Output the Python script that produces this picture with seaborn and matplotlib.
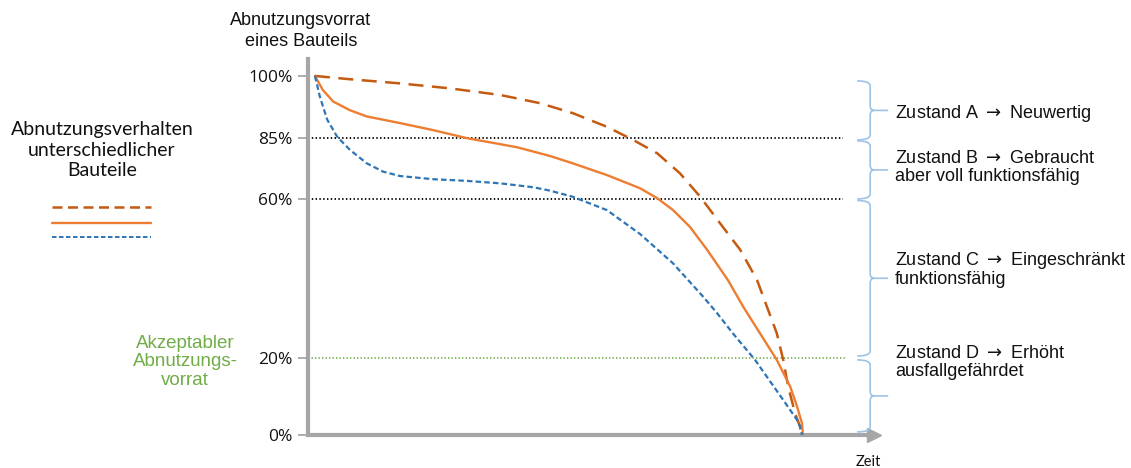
import numpy as np
import pandas as pd
import matplotlib
matplotlib.use('Agg')
import matplotlib.pyplot as plt
import seaborn as sns
from matplotlib.path import Path
from matplotlib.patches import PathPatch
from matplotlib.lines import Line2D
from matplotlib.transforms import IdentityTransform

# DATA (Zeit: 0..100 = end of life, Vorrat in %)

t_long = [1.4, 8.5, 18.6, 28.7, 38.9, 47.0, 53.6, 60.5, 65.8, 70.7, 75.3, 79.4, 83.4, 87.5,
          90.9, 92.9, 94.9, 96.2, 97.2, 98.6, 99.6, 100]
v_long = [100, 99.2, 98.2, 97.0, 95.4, 93.4, 91.0, 87.7, 84.2, 78.7, 70.5, 60.9, 53.9, 47.2,
          39.6, 32.9, 26.2, 19.5, 12.6, 5.6, 2.2, 0]

t_mid = [1.4, 3.0, 5.1, 8.5, 11.9, 18.6, 25.3, 32.2, 42.3, 49.0, 53.6, 60.5, 67.2, 70.7, 73.9,
         77.3, 80.8, 85.0, 88.1, 91.5, 94.9, 97.6, 99.0, 100.0, 100.2]
v_mid = [100, 96.6, 93.8, 91.7, 90.2, 88.6, 86.9, 84.9, 81.2, 77.6, 74.6, 69.8, 64.4, 60.3, 57.2,
         53.0, 47.2, 39.6, 32.9, 26.2, 19.5, 12.6, 7.4, 3.0, 0]

t_short = [1.4, 2.4, 3.9, 5.9, 8.5, 11.9, 15.2, 18.6, 25.3, 32.2, 38.9, 45.6, 49.0, 53.6, 60.5,
           67.2, 73.9, 80.0, 82.8, 86.0, 90.5, 92.9, 96.2, 99.0, 99.6, 100]
v_short = [100, 95.0, 89.4, 85.3, 80.1, 74.6, 71.2, 69.4, 68.1, 67.4, 66.4, 64.8, 63.4, 60.9, 57.2,
           51.2, 43.8, 35.4, 31.3, 26.2, 19.5, 15.1, 9.1, 3.9, 2.2, 0]

tick_vals = [0, 20, 60, 85, 100]
tick_labels = ['0%', '20%', '60%', '85%', '100%']
limits = [85, 60]          # black dotted borders
limit_ok = 20              # green: acceptable reserve

zone_top = [98.8, 83.8, 59.6, 19.5]
zone_bottom = [84.2, 60.0, 20.5, 0.8]
zone_texts = [r'Zustand A $\rightarrow$ Neuwertig',
              'Zustand B $\\rightarrow$ Gebraucht\naber voll funktionsfähig',
              'Zustand C $\\rightarrow$ Eingeschränkt\nfunktionsfähig',
              'Zustand D $\\rightarrow$ Erhöht\nausfallgefährdet']
zone_text_y = [113, 167.5, 269, 362.5]   # px from top

# schematic, non-linear y axis: percent -> pixel height above x axis
pct_knots = [0, 20, 60, 85, 100, 110]
pos_knots = [0, 77, 236, 297, 359, 400.3]

C_LONG = '#C55A11'
C_MID = '#ED7D31'
C_SHORT = '#2E75B6'
C_GREEN = '#70AD47'
C_AXIS = '#A6A6A6'
C_BRACE = '#9DC3E6'

sns.set_theme(style='white')
plt.rcParams['font.family'] = ['Liberation Sans', 'DejaVu Sans']
plt.rcParams['mathtext.fontset'] = 'dejavusans'

W, H = 1131, 468
fig = plt.figure(figsize=(W / 100, H / 100), dpi=100)


def px(x, y):
    return x / W, 1 - y / H


ax = fig.add_axes([308 / W, 1 - 435 / H, (868 - 308) / W, (435 - 59) / H])
ax.set_yscale('function', functions=(lambda p: np.interp(p, pct_knots, pos_knots),
                                     lambda q: np.interp(q, pos_knots, pct_knots)))
ax.set_xlim(0, 113.36)
ax.set_ylim(0, 104.1)

# horizontal limits
for lv in limits:
    ax.plot([0, 108.3], [lv, lv], color='black', lw=1.3, linestyle=(0, (0.8, 1.3)), zorder=2)
ax.plot([0, 108.7], [limit_ok, limit_ok], color=C_GREEN, lw=1.2, linestyle=(0, (0.8, 1.3)),
        zorder=2, clip_on=False)

# curves
sns.lineplot(x=t_long, y=v_long, ax=ax, color=C_LONG, lw=1.8, linestyle=(0, (6.0, 3.4)), zorder=4)
sns.lineplot(x=t_mid, y=v_mid, ax=ax, color=C_MID, lw=1.7, zorder=4)
sns.lineplot(x=t_short, y=v_short, ax=ax, color=C_SHORT, lw=1.6, linestyle=(0, (2.5, 1.4)), zorder=5)

# axes look
for s in ['top', 'right']:
    ax.spines[s].set_visible(False)
for s in ['left', 'bottom']:
    ax.spines[s].set_color(C_AXIS)
    ax.spines[s].set_linewidth(3)
    ax.spines[s].set_capstyle('projecting')
ax.set_xticks([])
ax.set_yticks(tick_vals)
ax.set_yticklabels(tick_labels, fontfamily='Open Sans', fontsize=12.5, color='#111111')
ax.tick_params(axis='y', length=7, width=1.3, color=C_AXIS, pad=4, left=True)
ax.grid(False)
ax.set_facecolor('none')

# arrow head on x axis
ax.plot([114.6], [0], marker='>', markersize=9.5, color=C_AXIS, clip_on=False, zorder=6)


# curly braces for the condition zones
def draw_brace(top, bottom, xd):
    x0, y_top = ax.transData.transform((xd, top))
    _, y_bot = ax.transData.transform((xd, bottom))
    ym = (y_top + y_bot) / 2
    w, r = 13, 5
    verts = [(x0 - w, y_top), (x0, y_top), (x0, y_top - r), (x0, ym + r), (x0, ym), (x0 + 4, ym),
             (x0 - w, y_bot), (x0, y_bot), (x0, y_bot + r), (x0, ym - r), (x0, ym), (x0 + 4, ym),
             (x0 + 4, ym), (x0 + 18, ym)]
    codes = [Path.MOVETO, Path.CURVE3, Path.CURVE3, Path.LINETO, Path.CURVE3, Path.CURVE3,
             Path.MOVETO, Path.CURVE3, Path.CURVE3, Path.LINETO, Path.CURVE3, Path.CURVE3,
             Path.MOVETO, Path.LINETO]
    fig.add_artist(PathPatch(Path(verts, codes), transform=IdentityTransform(),
                             fill=False, edgecolor=C_BRACE, lw=1.2))


for top, bot in zip(zone_top, zone_bottom):
    draw_brace(top, bot, 113.8)

for txt, yy in zip(zone_texts, zone_text_y):
    fig.text(*px(895, yy), txt, ha='left', va='center', fontsize=13, linespacing=1.05,
             color='#111111')

# titles / labels
fig.text(*px(301, 31), 'Abnutzungsvorrat\neines Bauteils', ha='center', va='center',
         fontsize=13, linespacing=1.25, color='#111111')
fig.text(*px(868, 462), 'Zeit', ha='center', va='center', fontsize=10.5,
         family=['Lato', 'DejaVu Sans'], color='#111111')
fig.text(*px(185, 362), 'Akzeptabler\nAbnutzungs-\nvorrat', ha='center', va='center',
         fontsize=13.5, linespacing=1.1, color=C_GREEN)

# left legend block
fig.text(*px(102, 150), 'Abnutzungsverhalten\nunterschiedlicher\nBauteile', ha='center',
         va='center', fontsize=14, linespacing=1.25, family=['Lato', 'DejaVu Sans'],
         color='#111111')
legend_styles = [(C_LONG, 1.8, (0, (4.0, 2.2))), (C_MID, 1.7, '-'), (C_SHORT, 1.4, (0, (2.3, 1.3)))]
for (col, lw, ls), yy in zip(legend_styles, [207, 223, 237]):
    fig.add_artist(Line2D([52 / W, 151 / W], [1 - yy / H] * 2, transform=fig.transFigure,
                          color=col, lw=lw, linestyle=ls))

fig.savefig('out.png', dpi=100, facecolor='white')
plt.close(fig)
